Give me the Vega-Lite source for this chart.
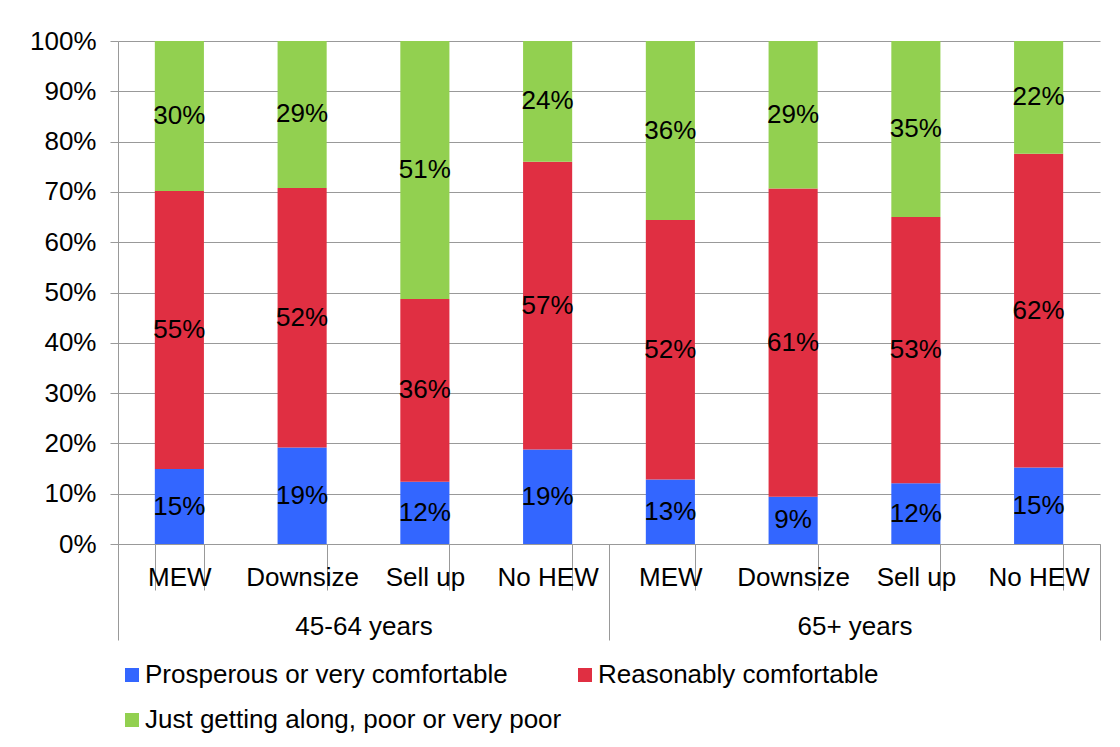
{
  "$schema": "https://vega.github.io/schema/vega-lite/v6.json",
  "width": 982,
  "height": 503,
  "autosize": {"type": "none"},
  "padding": {"left": 118, "top": 41, "right": 20, "bottom": 203},
  "background": "white",
  "config": {
    "font": "Liberation Sans",
    "view": {"stroke": null},
    "axis": {"labelColor": "black", "labelFont": "Liberation Sans", "labelFontSize": 26, "tickColor": "#999999", "domainColor": "#999999", "title": null},
    "legend": {"labelColor": "black", "labelFont": "Liberation Sans"}
  },
  "data": {
    "values": [
      {"group": "45-64 years", "slot": "45-64 years|MEW", "level": "Prosperous or very comfortable", "tier": 1, "share": 0.149},
      {"group": "45-64 years", "slot": "45-64 years|MEW", "level": "Reasonably comfortable", "tier": 2, "share": 0.553},
      {"group": "45-64 years", "slot": "45-64 years|MEW", "level": "Just getting along, poor or very poor", "tier": 3, "share": 0.298},
      {"group": "45-64 years", "slot": "45-64 years|Downsize", "level": "Prosperous or very comfortable", "tier": 1, "share": 0.192},
      {"group": "45-64 years", "slot": "45-64 years|Downsize", "level": "Reasonably comfortable", "tier": 2, "share": 0.516},
      {"group": "45-64 years", "slot": "45-64 years|Downsize", "level": "Just getting along, poor or very poor", "tier": 3, "share": 0.292},
      {"group": "45-64 years", "slot": "45-64 years|Sell up", "level": "Prosperous or very comfortable", "tier": 1, "share": 0.124},
      {"group": "45-64 years", "slot": "45-64 years|Sell up", "level": "Reasonably comfortable", "tier": 2, "share": 0.363},
      {"group": "45-64 years", "slot": "45-64 years|Sell up", "level": "Just getting along, poor or very poor", "tier": 3, "share": 0.513},
      {"group": "45-64 years", "slot": "45-64 years|No HEW", "level": "Prosperous or very comfortable", "tier": 1, "share": 0.188},
      {"group": "45-64 years", "slot": "45-64 years|No HEW", "level": "Reasonably comfortable", "tier": 2, "share": 0.572},
      {"group": "45-64 years", "slot": "45-64 years|No HEW", "level": "Just getting along, poor or very poor", "tier": 3, "share": 0.24},
      {"group": "65+ years", "slot": "65+ years|MEW", "level": "Prosperous or very comfortable", "tier": 1, "share": 0.128},
      {"group": "65+ years", "slot": "65+ years|MEW", "level": "Reasonably comfortable", "tier": 2, "share": 0.516},
      {"group": "65+ years", "slot": "65+ years|MEW", "level": "Just getting along, poor or very poor", "tier": 3, "share": 0.356},
      {"group": "65+ years", "slot": "65+ years|Downsize", "level": "Prosperous or very comfortable", "tier": 1, "share": 0.094},
      {"group": "65+ years", "slot": "65+ years|Downsize", "level": "Reasonably comfortable", "tier": 2, "share": 0.613},
      {"group": "65+ years", "slot": "65+ years|Downsize", "level": "Just getting along, poor or very poor", "tier": 3, "share": 0.293},
      {"group": "65+ years", "slot": "65+ years|Sell up", "level": "Prosperous or very comfortable", "tier": 1, "share": 0.121},
      {"group": "65+ years", "slot": "65+ years|Sell up", "level": "Reasonably comfortable", "tier": 2, "share": 0.529},
      {"group": "65+ years", "slot": "65+ years|Sell up", "level": "Just getting along, poor or very poor", "tier": 3, "share": 0.35},
      {"group": "65+ years", "slot": "65+ years|No HEW", "level": "Prosperous or very comfortable", "tier": 1, "share": 0.152},
      {"group": "65+ years", "slot": "65+ years|No HEW", "level": "Reasonably comfortable", "tier": 2, "share": 0.624},
      {"group": "65+ years", "slot": "65+ years|No HEW", "level": "Just getting along, poor or very poor", "tier": 3, "share": 0.224}
    ]
  },
  "transform": [
    {"stack": "share", "groupby": ["slot"], "sort": [{"field": "tier", "order": "ascending"}], "as": ["lo", "hi"], "offset": "normalize"},
    {"calculate": "(datum.lo + datum.hi) / 2", "as": "mid"}
  ],
  "layer": [
    {
      "mark": {"type": "bar"},
      "encoding": {
        "x": {
          "field": "slot", "type": "nominal",
          "sort": ["45-64 years|MEW", "45-64 years|Downsize", "45-64 years|Sell up", "45-64 years|No HEW", "65+ years|MEW", "65+ years|Downsize", "65+ years|Sell up", "65+ years|No HEW"],
          "scale": {"paddingInner": 0.6, "paddingOuter": 0.3},
          "axis": {"labelExpr": "split(datum.label, '|')[1]", "labelAngle": 0, "tickBand": "extent", "tickSize": 46, "labelPadding": -26, "labelLimit": 300}
        },
        "y": {
          "field": "lo", "type": "quantitative",
          "scale": {"domain": [0, 1], "nice": false},
          "axis": {"format": ".0%", "values": [0, 0.1, 0.2, 0.3, 0.4, 0.5, 0.6, 0.7, 0.8, 0.9, 1], "tickSize": 8, "labelPadding": 14, "grid": true, "gridColor": "#999999"}
        },
        "y2": {"field": "hi"},
        "color": {
          "field": "level", "type": "nominal",
          "scale": {
            "domain": ["Prosperous or very comfortable", "Just getting along, poor or very poor", "Reasonably comfortable"],
            "range": ["#3366ff", "#92d050", "#e02f42"]
          },
          "legend": {"title": null, "orient": "none", "legendX": 1, "legendY": 621, "columns": 2, "symbolType": "square", "symbolSize": 196, "symbolStrokeWidth": 0, "labelFontSize": 26, "labelLimit": 600, "columnPadding": 10, "rowPadding": 19, "labelOffset": 0}
        }
      }
    },
    {
      "mark": {"type": "text", "fontSize": 26, "color": "black", "font": "Liberation Sans"},
      "encoding": {
        "x": {
          "field": "slot", "type": "nominal",
          "sort": ["45-64 years|MEW", "45-64 years|Downsize", "45-64 years|Sell up", "45-64 years|No HEW", "65+ years|MEW", "65+ years|Downsize", "65+ years|Sell up", "65+ years|No HEW"],
          "scale": {"paddingInner": 0.6, "paddingOuter": 0.3},
          "axis": null
        },
        "y": {"field": "mid", "type": "quantitative"},
        "text": {"field": "share", "type": "quantitative", "format": ".0%"}
      }
    },
    {
      "mark": {"type": "bar", "opacity": 0},
      "encoding": {
        "x": {
          "field": "group", "type": "nominal",
          "scale": {"paddingInner": 0, "paddingOuter": 0},
          "axis": {"orient": "bottom", "domain": false, "labelAngle": 0, "tickBand": "extent", "tickSize": 96, "labelPadding": -27}
        }
      }
    }
  ],
  "resolve": {"scale": {"x": "independent"}}
}
